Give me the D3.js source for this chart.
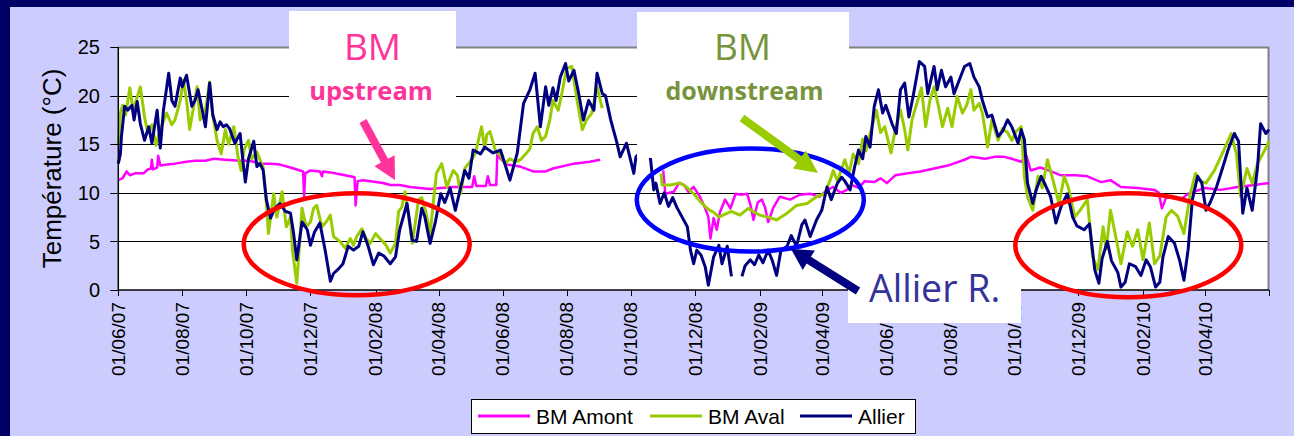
<!DOCTYPE html>
<html>
<head>
<meta charset="utf-8">
<script src="https://cdn.jsdelivr.net/npm/d3@7"></script>
<style>
  html, body { margin: 0; padding: 0; background: #ccccff; }
  svg { display: block; }
</style>
</head>
<body>
<svg id="chart" width="1294" height="436"></svg>
<script>
// ---- data -------------------------------------------------------------
const startDate = "2007-06-01";
const endDate = "2010-06-01";
const yTicks = [0, 5, 10, 15, 20, 25];
const yTitle = "Température (°C)";
const seriesNames = ["BM Amont", "BM Aval", "Allier"];
const seriesColors = ["#ff00ff", "#99cc00", "#000080"];

// day = days since 1 June 2007; null marks a logger gap
const amontDay = [0,4,8,11,16,24,28,31,32,33,37,38,40,46,54,65,73,83,91,102,116,125,135,145,154,164,173,176,177,178,183,192,194,195,202,211,221,225,226,228,233,240,252,259,268,278,287,297,307,319,337,339,341,350,352,354,360,361,364,370,383,395,407,414,434,449,459,489,519,521,529,534,539,543,548,554,559,562,564,567,570,573,578,583,588,593,599,602,605,609,613,616,619,624,630,640,649,659,668,674,681,688,694,699,705,711,720,726,732,740,752,764,777,790,806,812,826,835,844,851,860,865,869,878,886,898,912,923,936,945,955,971,987,991,994,998,1004,1012,1019,1035,1050,1066,1082,1096];
const amontTemp = [11.3,11.5,12.2,11.8,12.0,12.0,12.4,12.5,13.4,12.4,12.6,13.8,12.8,12.9,13.0,13.2,13.3,13.3,13.5,13.4,13.3,13.3,13.0,13.0,12.9,12.6,12.3,12.2,9.6,12.0,12.3,12.2,11.7,12.2,12.1,11.9,11.7,11.6,8.7,11.2,11.3,11.2,11.0,10.8,10.8,10.6,10.5,10.4,10.5,10.6,10.6,11.7,10.7,10.7,11.7,10.8,10.8,14.0,13.5,12.9,12.7,12.2,12.2,12.5,13.0,13.2,13.4,null,12.3,9.9,10.1,11.0,10.8,10.1,10.6,9.6,8.4,7.5,5.3,7.4,6.2,8.0,9.3,8.4,9.9,9.8,9.9,8.8,7.2,9.0,9.3,8.5,7.0,8.5,9.6,9.3,9.8,9.9,9.6,10.2,10.6,10.0,10.3,10.8,10.5,11.2,11.1,11.5,11.0,11.8,12.0,12.2,12.5,12.8,13.4,13.7,13.5,13.7,13.7,13.5,13.2,13.8,12.3,12.6,12.3,11.8,11.8,11.7,11.1,11.3,10.6,10.5,10.3,10.0,8.4,9.5,9.6,9.3,9.9,10.5,10.3,10.6,10.8,11.0];

const avalDay = [0,2,4,7,11,14,17,21,25,28,32,36,40,46,51,54,59,62,65,68,75,78,83,87,90,94,98,102,105,110,114,117,120,124,127,132,135,138,141,143,148,151,156,160,164,166,170,175,179,183,186,189,194,198,202,205,211,216,221,224,227,232,236,240,245,251,255,259,264,267,270,273,276,280,283,286,289,293,297,300,303,308,313,316,319,323,326,330,335,340,346,349,351,354,359,364,368,373,378,383,388,392,395,399,403,407,411,414,419,423,427,432,437,442,446,451,456,461,489,517,518,526,535,541,548,556,562,567,572,578,584,592,600,606,611,619,627,637,646,656,665,673,678,681,685,689,692,696,700,705,709,712,716,722,726,730,736,740,745,749,752,756,760,765,769,773,777,781,785,790,794,799,804,808,812,815,820,823,828,832,838,842,847,851,855,860,863,866,871,876,880,885,891,896,901,905,911,916,923,928,933,938,941,945,950,955,961,966,971,976,982,987,992,998,1003,1009,1015,1021,1026,1031,1036,1044,1050,1053,1060,1065,1069,1075,1080,1085,1092,1096];
const avalTemp = [15.0,18.2,19.0,18.0,20.8,18.5,19.5,20.9,17.8,16.2,17.0,14.9,16.5,18.2,17.0,17.5,19.5,21.6,19.5,16.5,20.9,17.5,18.5,21.4,18.0,15.4,14.0,16.5,15.0,16.8,13.7,12.3,14.5,15.4,13.5,14.2,13.4,12.6,9.0,5.8,9.9,7.5,10.1,6.5,7.5,4.0,0.7,8.4,6.5,7.0,8.4,8.7,6.5,7.0,7.7,5.5,5.0,4.3,5.3,4.6,5.5,6.3,5.3,4.8,5.8,5.1,4.6,3.8,4.8,8.1,8.5,10.1,8.0,4.8,7.0,9.3,9.5,8.0,5.8,9.0,12.0,13.0,10.6,11.5,12.3,11.8,9.9,12.5,13.2,14.0,16.8,14.5,16.0,16.3,14.4,13.8,13.0,13.5,13.2,13.4,14.0,14.5,16.1,16.8,15.4,15.8,17.5,19.5,18.5,20.5,22.8,23.0,19.5,16.5,17.5,18.2,20.9,18.7,null,12.0,10.8,10.8,11.0,10.6,9.9,8.9,8.3,8.0,7.5,7.8,8.1,7.7,8.4,8.0,7.7,7.5,7.2,7.9,8.7,8.9,9.6,9.9,11.3,12.3,11.2,12.5,13.4,12.0,14.0,13.0,15.5,14.3,16.0,18.5,16.2,16.8,14.1,16.5,18.5,16.5,14.4,17.5,19.0,20.8,16.8,19.5,20.9,19.0,16.8,18.7,16.8,19.9,18.2,19.0,20.6,18.5,19.2,18.2,14.7,17.5,15.4,16.6,16.2,15.4,16.3,16.8,11.7,9.6,8.2,11.7,10.5,13.4,11.0,8.9,11.7,10.5,7.5,8.2,9.3,3.4,2.1,6.5,4.2,8.2,5.5,2.7,6.0,4.5,6.2,3.1,6.9,2.7,3.5,7.5,8.2,7.6,5.8,9.9,12.0,11.2,11.0,12.3,13.7,14.4,16.1,14.0,9.6,12.5,11.0,13.0,14.4,15.3];

const allierDay = [0,2,3,6,9,13,15,18,21,25,29,32,37,40,43,48,51,54,59,61,65,70,73,76,80,83,87,90,94,97,100,103,106,111,116,119,121,124,129,132,135,138,141,145,149,154,159,164,167,170,175,180,183,187,192,197,202,205,210,214,219,224,229,233,238,243,248,253,259,264,268,275,280,284,289,292,297,302,307,311,316,321,326,330,334,338,345,349,357,364,367,373,380,386,392,397,402,407,410,414,417,421,426,429,434,438,443,448,453,456,461,464,469,475,478,484,491,493,497,503,507,510,512,516,520,524,528,532,537,542,545,548,551,555,559,562,567,572,575,580,584,589,594,597,602,606,610,614,619,623,627,631,637,641,646,651,654,659,665,670,675,679,685,689,692,697,701,705,709,712,716,720,724,728,731,737,741,745,749,753,757,763,768,771,777,780,784,788,793,796,801,806,811,815,820,823,828,832,838,842,847,851,857,860,863,866,871,874,879,883,888,893,898,904,909,913,920,925,930,934,937,942,946,952,955,959,963,969,974,979,983,988,992,995,1000,1006,1011,1015,1019,1023,1028,1032,1036,1040,1046,1051,1057,1063,1067,1071,1075,1080,1085,1088,1093,1096];
const allierTemp = [13.0,14.0,15.8,18.9,18.5,19.0,17.5,19.4,17.1,15.4,16.8,15.1,18.5,14.6,18.5,22.3,19.5,18.9,21.8,20.9,22.1,18.9,19.5,20.6,18.5,16.8,21.3,18.0,16.5,17.3,16.8,17.0,16.6,15.1,16.1,13.0,11.1,13.5,15.3,12.7,13.0,12.3,9.3,7.4,8.4,8.9,8.1,7.9,5.8,3.1,7.0,6.2,4.6,6.0,6.9,4.1,0.9,1.7,2.2,2.7,4.5,4.1,4.5,6.0,4.5,2.6,3.8,3.5,2.7,3.4,6.2,8.9,5.1,5.0,8.4,7.5,4.8,7.0,9.9,9.0,10.5,8.2,10.5,12.3,11.5,14.4,14.0,14.7,14.1,14.4,13.4,11.3,14.1,19.2,20.6,22.3,16.8,20.9,19.0,20.8,19.5,21.9,23.3,21.5,22.6,20.5,17.5,19.5,18.5,22.3,20.2,20.0,17.5,15.1,13.7,15.1,12.0,13.7,14.1,15.8,13.4,10.3,11.0,8.9,10.0,8.6,9.5,8.5,7.5,6.5,4.1,2.7,4.1,3.6,2.4,0.5,3.4,4.6,2.7,4.5,1.4,null,1.4,2.5,3.1,2.6,3.6,2.8,4.1,3.0,1.5,4.0,4.5,5.6,4.5,6.7,7.2,5.5,7.2,8.2,10.6,9.3,11.0,11.6,11.2,10.3,12.5,14.4,13.5,15.8,14.7,18.9,20.6,18.2,19.0,17.1,16.1,20.6,21.3,17.8,19.9,23.5,23.0,20.2,23.0,20.6,22.6,20.9,21.9,20.2,21.6,23.0,23.3,21.9,20.9,19.5,17.8,18.0,15.8,16.3,17.5,16.8,15.1,16.5,15.5,11.0,8.9,10.2,11.7,10.8,9.6,6.9,8.6,9.9,7.5,6.6,6.2,6.8,2.1,0.7,3.2,5.0,3.0,1.8,0.3,0.8,2.7,2.4,1.5,3.1,2.4,0.3,0.8,3.4,5.5,4.8,3.0,1.0,4.2,9.3,11.7,11.0,8.2,9.0,10.6,12.3,14.4,16.1,15.3,7.9,10.5,8.2,12.5,17.1,16.1,16.5];

// callout texts
const noteUp = ["BM", "upstream"];
const noteDown = ["BM", "downstream"];
const noteRiver = "Allier R.";

// ---- setup ------------------------------------------------------------
const svg = d3.select("#chart");
const W = 1294, H = 436;
const plot = { left: 118.3, right: 1269, top: 47, bottom: 290 };
const t0 = d3.utcParse("%Y-%m-%d")(startDate);
const t1 = d3.utcParse("%Y-%m-%d")(endDate);

const x = d3.scaleUtc().domain([t0, t1]).range([plot.left, plot.right]);
const y = d3.scaleLinear().domain([0, 25]).range([plot.bottom, plot.top]);

function toSeries(days, temps) {
  return days.map((d, i) => ({ date: d3.utcDay.offset(t0, d), v: temps[i] }));
}
const series = [
  toSeries(amontDay, amontTemp),
  toSeries(avalDay, avalTemp),
  toSeries(allierDay, allierTemp)
];

// slide frame
svg.append("rect").attr("x", 0).attr("y", 0).attr("width", W).attr("height", H).attr("fill", "#ccccff");
svg.append("rect").attr("x", 0).attr("y", 0).attr("width", W).attr("height", 7).attr("fill", "#000066");
svg.append("rect").attr("x", 0).attr("y", 0).attr("width", 10).attr("height", H).attr("fill", "#000066");

// plot area
svg.append("rect")
  .attr("x", plot.left).attr("y", plot.top)
  .attr("width", plot.right - plot.left).attr("height", plot.bottom - plot.top)
  .attr("fill", "#ffffff");

// horizontal gridlines
svg.append("g").selectAll("line")
  .data(yTicks.filter(v => v > 0 && v < 25))
  .join("line")
  .attr("x1", plot.left).attr("x2", plot.right)
  .attr("y1", d => Math.round(y(d)) + 0.5).attr("y2", d => Math.round(y(d)) + 0.5)
  .attr("stroke", "#000").attr("stroke-width", 1);

// plot border (top / right)
svg.append("path")
  .attr("d", `M${plot.left},${plot.top + 0.5}H${plot.right - 0.5}V${plot.bottom}`)
  .attr("fill", "none").attr("stroke", "#808080").attr("stroke-width", 2);

// series lines
const line = d3.line()
  .defined(d => d.v != null)
  .x(d => x(d.date))
  .y(d => y(d.v));
const widths = [2.5, 3, 3];
series.forEach((s, i) => {
  svg.append("path")
    .datum(s)
    .attr("d", line)
    .attr("fill", "none")
    .attr("stroke", seriesColors[i])
    .attr("stroke-width", widths[i])
    .attr("stroke-linejoin", "round");
});

// y axis
const yAxis = svg.append("g");
yAxis.append("line")
  .attr("x1", plot.left).attr("x2", plot.left)
  .attr("y1", plot.top).attr("y2", plot.bottom)
  .attr("stroke", "#000").attr("stroke-width", 1.5);
yAxis.selectAll("line.tick").data(yTicks).join("line").attr("class", "tick")
  .attr("x1", plot.left - 8).attr("x2", plot.left)
  .attr("y1", d => Math.round(y(d)) + 0.5).attr("y2", d => Math.round(y(d)) + 0.5)
  .attr("stroke", "#000");
yAxis.selectAll("text").data(yTicks).join("text")
  .attr("x", 100).attr("y", d => y(d)).attr("dy", "0.36em")
  .attr("text-anchor", "end")
  .attr("font-family", "'Liberation Sans', Arial, sans-serif")
  .attr("font-size", 20).attr("fill", "#000")
  .text(d => d);

svg.append("text")
  .attr("transform", `translate(61,${(plot.top + plot.bottom) / 2}) rotate(-90)`)
  .attr("text-anchor", "middle")
  .attr("font-family", "'Liberation Sans', Arial, sans-serif")
  .attr("font-size", 26).attr("fill", "#000")
  .text(yTitle);

// x axis
const xTickDates = d3.utcMonth.range(t0, d3.utcDay.offset(t1, 1), 2);
const fmt = d3.utcFormat("%d/%m/%y");
const xAxis = svg.append("g");
xAxis.append("line")
  .attr("x1", plot.left).attr("x2", plot.right)
  .attr("y1", plot.bottom).attr("y2", plot.bottom)
  .attr("stroke", "#000").attr("stroke-width", 1.5);
xAxis.selectAll("line.tick").data(xTickDates).join("line").attr("class", "tick")
  .attr("x1", d => Math.round(x(d)) + 0.5).attr("x2", d => Math.round(x(d)) + 0.5)
  .attr("y1", plot.bottom).attr("y2", plot.bottom + 6)
  .attr("stroke", "#000");
xAxis.selectAll("text").data(xTickDates.slice(0, -1)).join("text")
  .attr("transform", d => `translate(${x(d)},302) rotate(-90)`)
  .attr("dy", "0.36em")
  .attr("text-anchor", "end")
  .attr("font-family", "'Liberation Sans', Arial, sans-serif")
  .attr("font-size", 19).attr("fill", "#000")
  .text(d => fmt(d));

// legend
const lg = svg.append("g");
lg.append("rect").attr("x", 471.5).attr("y", 399.5).attr("width", 444).attr("height", 34)
  .attr("fill", "#fff").attr("stroke", "#000").attr("stroke-width", 1);
const legendX = [478, 650, 800];
seriesNames.forEach((n, i) => {
  lg.append("line")
    .attr("x1", legendX[i]).attr("x2", legendX[i] + 52)
    .attr("y1", 416).attr("y2", 416)
    .attr("stroke", seriesColors[i]).attr("stroke-width", 3);
  lg.append("text")
    .attr("x", legendX[i] + 58).attr("y", 423.5)
    .attr("font-family", "'Liberation Sans', Arial, sans-serif")
    .attr("font-size", 21).attr("fill", "#000")
    .text(n);
});

// ---- callouts ---------------------------------------------------------
const notes = svg.append("g");
function box(x0, y0, x1, y1) {
  notes.append("rect").attr("x", x0).attr("y", y0).attr("width", x1 - x0).attr("height", y1 - y0).attr("fill", "#fff");
}
box(289, 11, 456, 124);
box(637, 12, 849, 158);
box(848, 266, 1021, 323);

function label(txt, cx, by, size, weight, color, anchor) {
  notes.append("text")
    .attr("x", cx).attr("y", by)
    .attr("text-anchor", anchor || "middle")
    .attr("font-family", "'Open Sans', sans-serif")
    .attr("font-size", size).attr("font-weight", weight)
    .attr("fill", color)
    .text(txt);
}
label(noteUp[0], 372.5, 60, 37, 400, "#ff3399");
label(noteUp[1], 371, 100, 25.5, 700, "#ff3399");
label(noteDown[0], 742.5, 60, 37, 400, "#77933c");
label(noteDown[1], 744.5, 100, 25, 700, "#77933c");
label(noteRiver, 869, 302, 37.5, 400, "#333399", "start");

// highlight ellipses
function ring(cx, cy, rx, ry, color) {
  notes.append("ellipse").attr("cx", cx).attr("cy", cy).attr("rx", rx).attr("ry", ry)
    .attr("fill", "none").attr("stroke", color).attr("stroke-width", 4.5);
}
ring(356.7, 244.2, 113, 51, "#ff0000");
ring(750.3, 200, 113.5, 51.5, "#0000ff");
ring(1128.3, 245.3, 113, 52, "#ff0000");

// block arrows
function arrow(x1, y1, x2, y2, shaft, headW, headL, color) {
  const dx = x2 - x1, dy = y2 - y1, L = Math.hypot(dx, dy);
  const ux = dx / L, uy = dy / L, px = -uy, py = ux;
  const bx = x2 - ux * headL, by = y2 - uy * headL;
  const pts = [
    [x1 + px * shaft / 2, y1 + py * shaft / 2],
    [bx + px * shaft / 2, by + py * shaft / 2],
    [bx + px * headW / 2, by + py * headW / 2],
    [x2, y2],
    [bx - px * headW / 2, by - py * headW / 2],
    [bx - px * shaft / 2, by - py * shaft / 2],
    [x1 - px * shaft / 2, y1 - py * shaft / 2]
  ];
  notes.append("polygon").attr("points", pts.map(p => p.join(",")).join(" ")).attr("fill", color);
}
arrow(363, 121, 395, 180, 8, 23, 22, "#ff3399");
arrow(742, 118, 818, 173, 8, 22, 23, "#99cc00");
arrow(858, 291, 791, 249, 8, 23, 21, "#000080");
</script>
</body>
</html>
